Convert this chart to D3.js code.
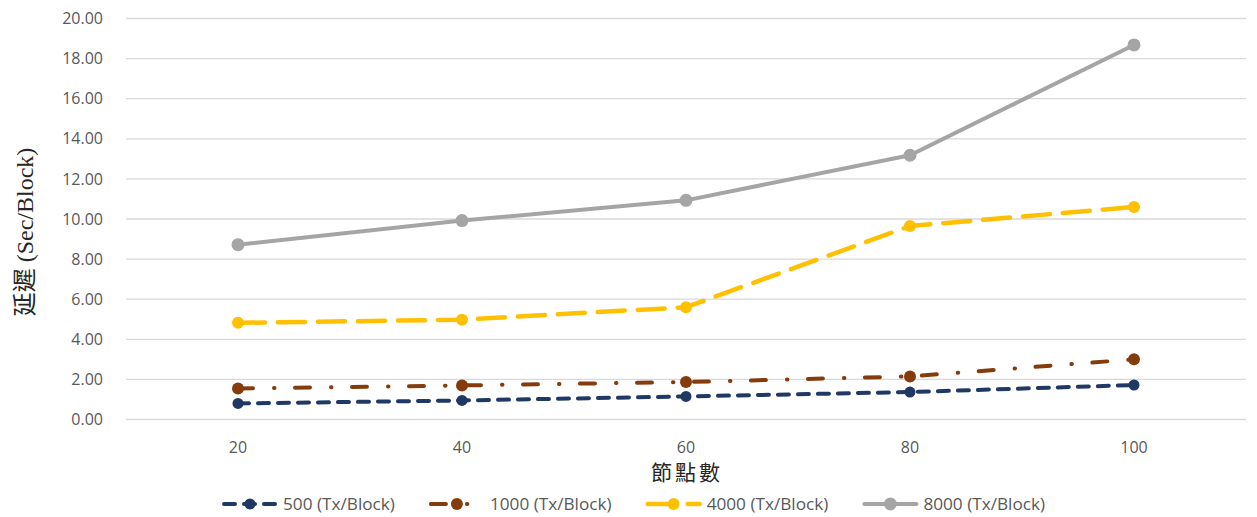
<!DOCTYPE html>
<html>
<head>
<meta charset="utf-8">
<script src="https://cdn.jsdelivr.net/npm/d3@7"></script>
<style>
  body { margin: 0; background: #fff; }
</style>
</head>
<body>
<div id="chart"></div>
<script>
// 節點數 (x categories)
const nodes = [20, 40, 60, 80, 100];
const yTicks = [0, 2, 4, 6, 8, 10, 12, 14, 16, 18, 20];

// 延遲 values per series (Sec/Block)
const tx500 = [0.80, 0.95, 1.15, 1.37, 1.72];
const tx1000 = [1.55, 1.70, 1.87, 2.15, 3.00];
const tx4000 = [4.82, 4.98, 5.60, 9.65, 10.60];
const tx8000 = [8.72, 9.92, 10.93, 13.18, 18.68];

const seriesNames = ["500 (Tx/Block)", "1000 (Tx/Block)", "4000 (Tx/Block)", "8000 (Tx/Block)"];

const series = [
  { name: seriesNames[0], values: tx500, color: "#203864", dash: "11,9", width: 4, r: 5.5 },
  { name: seriesNames[1], values: tx1000, color: "#843C0C", dash: "15,21,0.5,20.5", width: 4, r: 6 },
  { name: seriesNames[2], values: tx4000, color: "#FFC000", dash: "27,13", width: 4.5, r: 6 },
  { name: seriesNames[3], values: tx8000, color: "#A5A5A5", dash: null, width: 4, r: 6.5 }
];

const width = 1257, height = 517;
const sans = "'Open Sans', 'Noto Sans', sans-serif";
const serif = "'Liberation Serif', 'DejaVu Serif', 'Noto Sans CJK TC', serif";

const svg = d3.select("#chart").append("svg")
  .attr("width", width)
  .attr("height", height)
  .attr("font-family", sans);

const x = d3.scalePoint()
  .domain(nodes)
  .range([126, 1246])
  .padding(0.5);

const y = d3.scaleLinear()
  .domain([0, 20])
  .range([419.5, 18.5]);

// gridlines
svg.append("g")
  .selectAll("line")
  .data(yTicks)
  .join("line")
  .attr("x1", 126)
  .attr("x2", 1246)
  .attr("y1", d => y(d))
  .attr("y2", d => y(d))
  .attr("stroke", "#d9d9d9")
  .attr("stroke-width", 1.3);

// y tick labels
svg.append("g")
  .selectAll("text")
  .data(yTicks)
  .join("text")
  .attr("x", 103)
  .attr("y", d => y(d))
  .attr("dy", "0.35em")
  .attr("text-anchor", "end")
  .attr("font-size", 16)
  .attr("fill", "#595959")
  .text(d => d.toFixed(2));

// x tick labels
svg.append("g")
  .selectAll("text")
  .data(nodes)
  .join("text")
  .attr("x", d => x(d))
  .attr("y", 447)
  .attr("dy", "0.35em")
  .attr("text-anchor", "middle")
  .attr("font-size", 16)
  .attr("fill", "#595959")
  .text(d => d);

// axis titles
svg.append("text")
  .attr("transform", "translate(25,232) rotate(-90)")
  .attr("text-anchor", "middle")
  .attr("dy", "0.35em")
  .attr("font-family", serif)
  .attr("font-size", 24)
  .attr("fill", "#262626")
  .text("延遲 (Sec/Block)");

svg.append("text")
  .attr("x", 687)
  .attr("y", 473)
  .attr("dy", "0.35em")
  .attr("text-anchor", "middle")
  .attr("font-family", serif)
  .attr("font-size", 21)
  .attr("letter-spacing", 3)
  .attr("fill", "#262626")
  .text("節點數");

// lines and markers
const line = d3.line()
  .x((d, i) => x(nodes[i]))
  .y(d => y(d));

series.forEach(s => {
  const g = svg.append("g");
  g.append("path")
    .datum(s.values)
    .attr("d", line)
    .attr("fill", "none")
    .attr("stroke", s.color)
    .attr("stroke-width", s.width)
    .attr("stroke-linecap", "round")
    .attr("stroke-linejoin", "round")
    .attr("stroke-dasharray", s.dash);

  g.selectAll("circle")
    .data(s.values)
    .join("circle")
    .attr("cx", (d, i) => x(nodes[i]))
    .attr("cy", d => y(d))
    .attr("r", s.r)
    .attr("fill", s.color);
});

// legend
const legend = svg.append("g");
let lx = 222;
const ly = 504;
series.forEach(s => {
  legend.append("line")
    .attr("x1", lx + 2)
    .attr("x2", lx + 54)
    .attr("y1", ly)
    .attr("y2", ly)
    .attr("stroke", s.color)
    .attr("stroke-width", s.width)
    .attr("stroke-linecap", "round")
    .attr("stroke-dasharray", s.dash);
  legend.append("circle")
    .attr("cx", lx + 28)
    .attr("cy", ly)
    .attr("r", s.r)
    .attr("fill", s.color);
  const t = legend.append("text")
    .attr("x", lx + 61)
    .attr("y", ly)
    .attr("dy", "0.35em")
    .attr("font-size", 17.2)
    .attr("fill", "#595959")
    .text(s.name);
  lx += 61 + t.node().getComputedTextLength() + 34;
});
</script>
</body>
</html>
